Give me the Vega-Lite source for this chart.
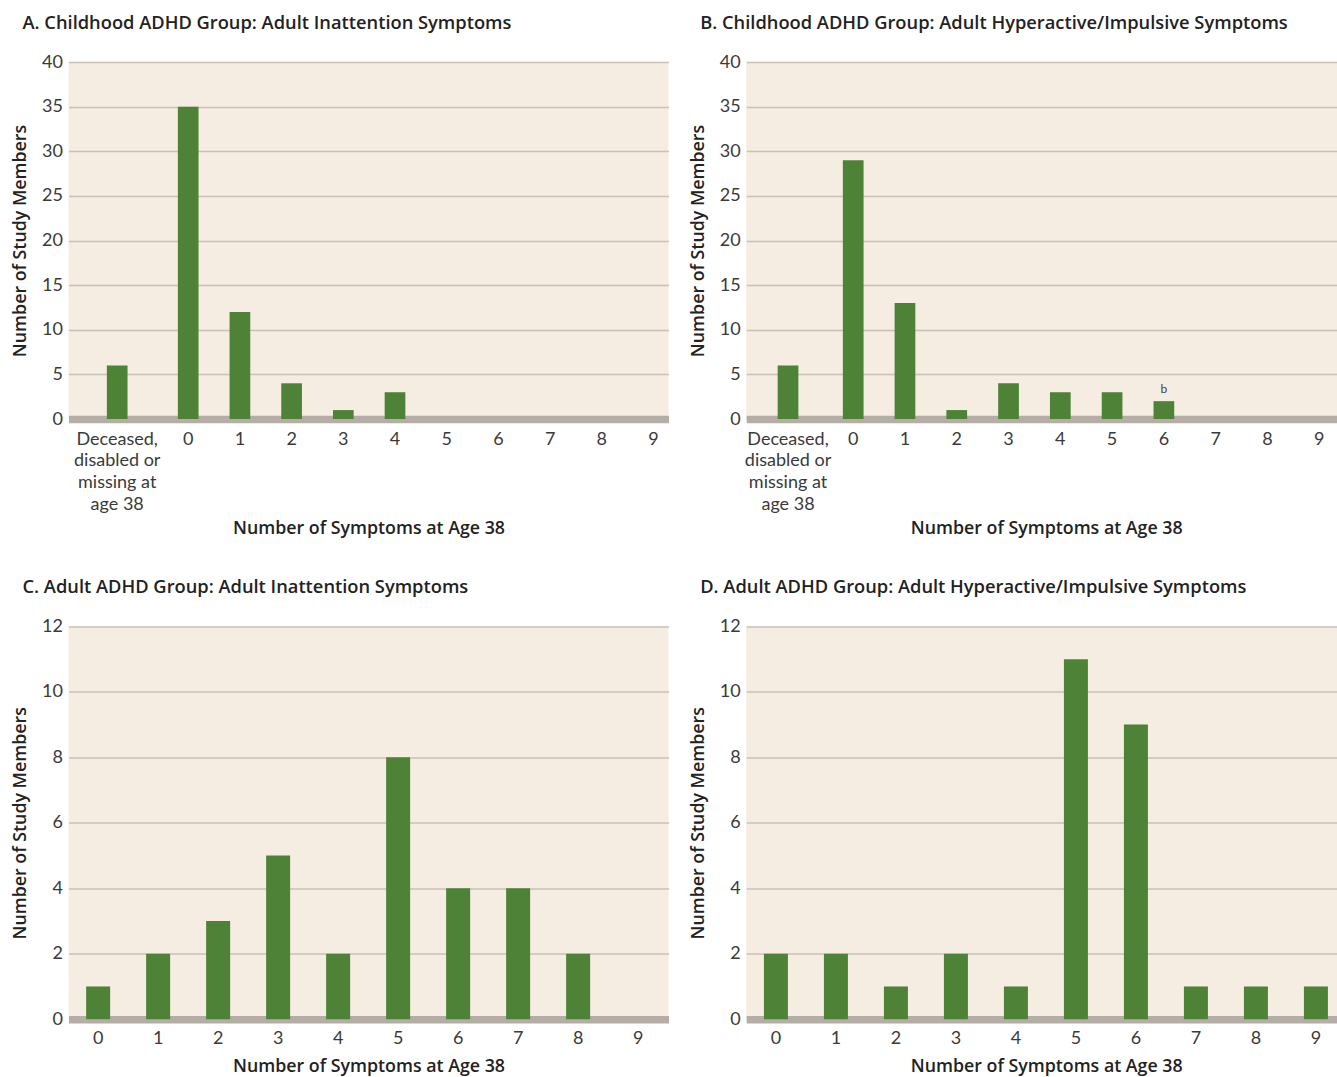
{
  "$schema": "https://vega.github.io/schema/vega-lite/v6.json",
  "background": "white",
  "padding": {"left": 11.5, "top": 13, "right": 0, "bottom": 8},
  "datasets": {
    "counts": [
      {"panel": "A", "cat": "Deceased,|disabled or|missing at|age 38", "n": 6},
      {"panel": "A", "cat": "0", "n": 35},
      {"panel": "A", "cat": "1", "n": 12},
      {"panel": "A", "cat": "2", "n": 4},
      {"panel": "A", "cat": "3", "n": 1},
      {"panel": "A", "cat": "4", "n": 3},
      {"panel": "A", "cat": "5", "n": 0},
      {"panel": "A", "cat": "6", "n": 0},
      {"panel": "A", "cat": "7", "n": 0},
      {"panel": "A", "cat": "8", "n": 0},
      {"panel": "A", "cat": "9", "n": 0},
      {"panel": "B", "cat": "Deceased,|disabled or|missing at|age 38", "n": 6},
      {"panel": "B", "cat": "0", "n": 29},
      {"panel": "B", "cat": "1", "n": 13},
      {"panel": "B", "cat": "2", "n": 1},
      {"panel": "B", "cat": "3", "n": 4},
      {"panel": "B", "cat": "4", "n": 3},
      {"panel": "B", "cat": "5", "n": 3},
      {"panel": "B", "cat": "6", "n": 2, "note": "b"},
      {"panel": "B", "cat": "7", "n": 0},
      {"panel": "B", "cat": "8", "n": 0},
      {"panel": "B", "cat": "9", "n": 0},
      {"panel": "C", "cat": "0", "n": 1},
      {"panel": "C", "cat": "1", "n": 2},
      {"panel": "C", "cat": "2", "n": 3},
      {"panel": "C", "cat": "3", "n": 5},
      {"panel": "C", "cat": "4", "n": 2},
      {"panel": "C", "cat": "5", "n": 8},
      {"panel": "C", "cat": "6", "n": 4},
      {"panel": "C", "cat": "7", "n": 4},
      {"panel": "C", "cat": "8", "n": 2},
      {"panel": "C", "cat": "9", "n": 0},
      {"panel": "D", "cat": "0", "n": 2},
      {"panel": "D", "cat": "1", "n": 2},
      {"panel": "D", "cat": "2", "n": 1},
      {"panel": "D", "cat": "3", "n": 2},
      {"panel": "D", "cat": "4", "n": 1},
      {"panel": "D", "cat": "5", "n": 11},
      {"panel": "D", "cat": "6", "n": 9},
      {"panel": "D", "cat": "7", "n": 1},
      {"panel": "D", "cat": "8", "n": 1},
      {"panel": "D", "cat": "9", "n": 1}
    ]
  },
  "data": {"name": "counts"},
  "columns": 2,
  "spacing": {"row": 207.4, "column": 77.7},
  "bounds": "flush",
  "concat": [
    {
      "width": 600,
      "height": 357,
      "title": {"text": "A. Childhood ADHD Group: Adult Inattention Symptoms"},
      "transform": [{"filter": "datum.panel === 'A'"}],
      "encoding": {
        "x": {
          "field": "cat", "type": "nominal",
          "scale": {"domain": ["Deceased,|disabled or|missing at|age 38", "0", "1", "2", "3", "4", "5", "6", "7", "8", "9"], "paddingInner": 0.6, "paddingOuter": 0.6025, "align": 0.9255},
          "axis": {
            "title": "Number of Symptoms at Age 38",
            "labelExpr": "split(datum.value, '|')",
            "labelOffset": {"condition": {"test": "indexof(datum.value, 'Deceased') >= 0", "value": -19.3}, "value": 0},
            "titleY": 114,
            "labelPadding": 11
          }
        },
        "y": {
          "field": "n", "type": "quantitative",
          "scale": {"domain": [0, 40], "nice": false},
          "axis": {"title": "Number of Study Members", "values": [0, 5, 10, 15, 20, 25, 30, 35, 40]}
        }
      },
      "layer": [
        {"mark": {"type": "bar", "xOffset": {"expr": "indexof(datum.cat, 'Deceased') >= 0 ? -19.3 : 0"}}}
      ]
    },
    {
      "width": 591,
      "height": 357,
      "title": {"text": "B. Childhood ADHD Group: Adult Hyperactive/Impulsive Symptoms"},
      "transform": [{"filter": "datum.panel === 'B'"}],
      "encoding": {
        "x": {
          "field": "cat", "type": "nominal",
          "scale": {"domain": ["Deceased,|disabled or|missing at|age 38", "0", "1", "2", "3", "4", "5", "6", "7", "8", "9"], "paddingInner": 0.6, "paddingOuter": 0.507, "align": 0.8545},
          "axis": {
            "title": "Number of Symptoms at Age 38",
            "labelExpr": "split(datum.value, '|')",
            "labelOffset": {"condition": {"test": "indexof(datum.value, 'Deceased') >= 0", "value": -13.4}, "value": 0},
            "titleY": 114,
            "titleX": 300,
            "labelPadding": 11
          }
        },
        "y": {
          "field": "n", "type": "quantitative",
          "scale": {"domain": [0, 40], "nice": false},
          "axis": {"title": "Number of Study Members", "values": [0, 5, 10, 15, 20, 25, 30, 35, 40]}
        }
      },
      "layer": [
        {"mark": {"type": "bar", "xOffset": {"expr": "indexof(datum.cat, 'Deceased') >= 0 ? -13.4 : 0"}}},
        {
          "transform": [{"filter": "datum.note"}],
          "mark": {"type": "text", "baseline": "alphabetic", "dy": -8, "fontSize": 12, "color": "#444444", "font": "Lato"},
          "encoding": {"text": {"field": "note"}}
        }
      ]
    },
    {
      "width": 600,
      "height": 392.8,
      "title": {"text": "C. Adult ADHD Group: Adult Inattention Symptoms"},
      "transform": [{"filter": "datum.panel === 'C'"}],
      "encoding": {
        "x": {
          "field": "cat", "type": "nominal",
          "scale": {"domain": ["0", "1", "2", "3", "4", "5", "6", "7", "8", "9"], "paddingInner": 0.6, "paddingOuter": 0.3, "align": 0.49},
          "axis": {"title": "Number of Symptoms at Age 38", "titleY": 52, "labelPadding": 10.5}
        },
        "y": {
          "field": "n", "type": "quantitative",
          "scale": {"domain": [0, 12], "nice": false},
          "axis": {"title": "Number of Study Members", "values": [0, 2, 4, 6, 8, 10, 12]}
        }
      },
      "layer": [
        {"mark": {"type": "bar"}}
      ]
    },
    {
      "width": 591,
      "height": 392.8,
      "title": {"text": "D. Adult ADHD Group: Adult Hyperactive/Impulsive Symptoms"},
      "transform": [{"filter": "datum.panel === 'D'"}],
      "encoding": {
        "x": {
          "field": "cat", "type": "nominal",
          "scale": {"domain": ["0", "1", "2", "3", "4", "5", "6", "7", "8", "9"], "paddingInner": 0.6, "paddingOuter": 0.225, "align": 0.656},
          "axis": {"title": "Number of Symptoms at Age 38", "titleY": 52, "titleX": 300, "labelPadding": 10.5}
        },
        "y": {
          "field": "n", "type": "quantitative",
          "scale": {"domain": [0, 12], "nice": false},
          "axis": {"title": "Number of Study Members", "values": [0, 2, 4, 6, 8, 10, 12]}
        }
      },
      "layer": [
        {"mark": {"type": "bar"}}
      ]
    }
  ],
  "config": {
    "font": "Lato",
    "view": {"fill": "#f5ede1", "stroke": null},
    "bar": {"color": "#4e8237"},
    "axis": {
      "labelFont": "Lato",
      "labelFontSize": 18,
      "labelColor": "#3a3a3a",
      "titleFont": "Open Sans",
      "titleFontSize": 17.8,
      "titleFontWeight": 600,
      "titleColor": "#222222",
      "titleBaseline": "alphabetic"
    },
    "axisX": {
      "labelAngle": 0,
      "labelOverlap": false,
      "labelLineHeight": 21.7,
      "ticks": false,
      "tickSize": 0,
      "domainColor": "#b5aea7",
      "domainWidth": 7.5,
      "grid": false,
      "zindex": 1
    },
    "axisY": {
      "ticks": false,
      "tickSize": 0,
      "domain": false,
      "grid": true,
      "gridColor": "#c8c0b9",
      "gridWidth": 1.5,
      "labelPadding": 6,
      "titleX": -43
    },
    "title": {
      "font": "Open Sans",
      "fontSize": 18.3,
      "fontWeight": 600,
      "color": "#222222",
      "anchor": "start",
      "frame": "group",
      "dx": -46,
      "baseline": "alphabetic",
      "offset": 20
    }
  }
}
